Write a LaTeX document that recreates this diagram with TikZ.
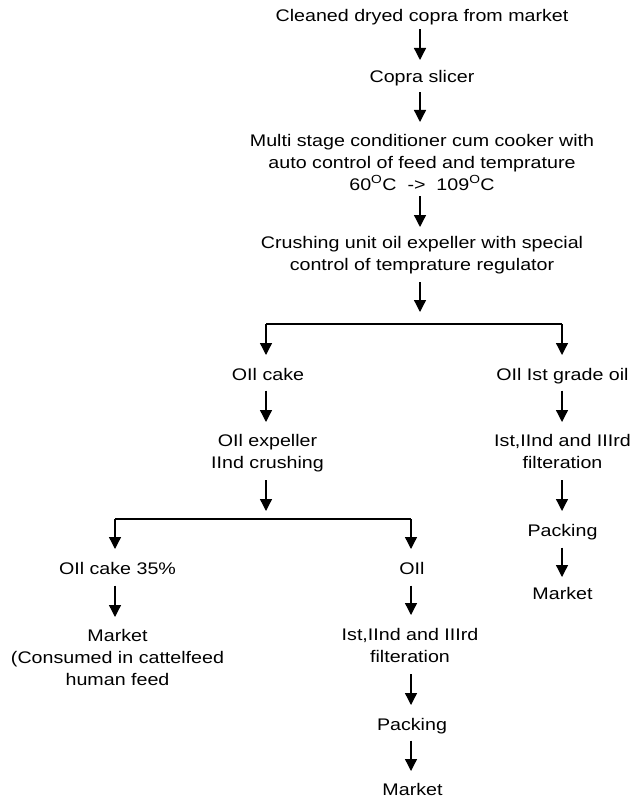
\documentclass[tikz,border=0pt]{standalone}
\usepackage{fontspec}
\setmainfont{Liberation Sans}[FakeStretch=1.17]
\usetikzlibrary{arrows.meta}
\newcommand\stt{\rule[-4pt]{0pt}{16.5pt}}
\begin{document}
\begin{tikzpicture}[x=1pt,y=-1pt,
  txt/.style={inner sep=0pt, outer sep=0pt, align=center, anchor=north,
    font=\fontsize{16.8}{22}\selectfont,
    execute at begin node=\stt, execute at end node=\stt},
  conn/.style={line width=1.3pt, draw=black},
  arr/.style={conn, -{Triangle[width=12pt,length=12pt]}}]
\useasboundingbox (0,0) rectangle (632,797);

% top column
\node[txt] (n1) at (422,9) {Cleaned dryed copra from market};
\node[txt] (n2) at (422,70) {Copra slicer};
\node[txt] (n3) at (422,134) {Multi stage conditioner cum cooker with\\auto control of feed and temprature\\60\textsuperscript{O}C\ \ ->\ \ 109\textsuperscript{O}C};
\node[txt] (n4) at (422,236) {Crushing unit oil expeller with special\\control of temprature regulator};
\coordinate (c4) at (420,312);

% first split
\coordinate (j1l) at (266,324);
\coordinate (j1r) at (562,324);
\node[txt] (n5) at (268,368) {OIl cake};
\node[txt] (n6) at (562.5,368) {OIl Ist grade oil};
\node[txt] (n7) at (267.5,434) {OIl expeller\\IInd crushing};
\node[txt] (n8) at (562.5,434) {Ist,IInd and IIIrd\\filteration};
\coordinate (c7) at (266,511);
\node[txt] (n9) at (562.5,524) {Packing};
\node[txt] (n10) at (562.5,587) {Market};

% second split
\coordinate (j2l) at (115,519);
\coordinate (j2r) at (411,519);
\node[txt] (n11) at (117.5,562) {OIl cake 35\%};
\node[txt] (n12) at (412,562) {OIl};
\node[txt] (n13) at (117.5,629) {Market\\(Consumed in cattelfeed\\human feed};
\node[txt] (n14) at (410,628) {Ist,IInd and IIIrd\\filteration};
\node[txt] (n15) at (412,718) {Packing};
\node[txt, execute at end node={}] (n16) at (412.5,782.5) {Market};

% top arrows
\draw[arr, shorten <=4pt, shorten >=10pt] (c4 |- n1.south) -- (c4 |- n2.north);
\draw[arr, shorten <=6pt, shorten >=12pt] (c4 |- n2.south) -- (c4 |- n3.north);
\draw[arr, shorten <=2pt, shorten >=9pt] (c4 |- n3.south) -- (c4 |- n4.north);
\draw[arr, shorten <=8pt] (c4 |- n4.south) -- (c4);

% first split bar and drops
\draw[conn] (j1l) -- (j1r);
\draw[arr, shorten >=13pt] (j1l) -- (j1l |- n5.north);
\draw[arr, shorten >=13pt] (j1r) -- (j1r |- n6.north);

% left branch
\draw[arr, shorten <=6pt, shorten >=12pt] (j1l |- n5.south) -- (j1l |- n7.north);
\draw[arr, shorten <=8pt] (j1l |- n7.south) -- (c7);

% right branch
\draw[arr, shorten <=6pt, shorten >=12pt] (j1r |- n6.south) -- (j1r |- n8.north);
\draw[arr, shorten <=8pt, shorten >=13pt] (j1r |- n8.south) -- (j1r |- n9.north);
\draw[arr, shorten <=7pt, shorten >=10pt] (j1r |- n9.south) -- (j1r |- n10.north);

% second split bar and drops
\draw[conn] (j2l) -- (j2r);
\draw[arr, shorten >=13pt] (j2l) -- (j2l |- n11.north);
\draw[arr, shorten >=13pt] (j2r) -- (j2r |- n12.north);

% lower left
\draw[arr, shorten <=7pt, shorten >=12pt] (j2l |- n11.south) -- (j2l |- n13.north);

% lower middle
\draw[arr, shorten <=7pt, shorten >=13pt] (j2r |- n12.south) -- (j2r |- n14.north);
\draw[arr, shorten <=8pt, shorten >=13pt] (j2r |- n14.south) -- (j2r |- n15.north);
\draw[arr, shorten <=6pt, shorten >=11.5pt] (j2r |- n15.south) -- (j2r |- n16.north);
\end{tikzpicture}
\end{document}
